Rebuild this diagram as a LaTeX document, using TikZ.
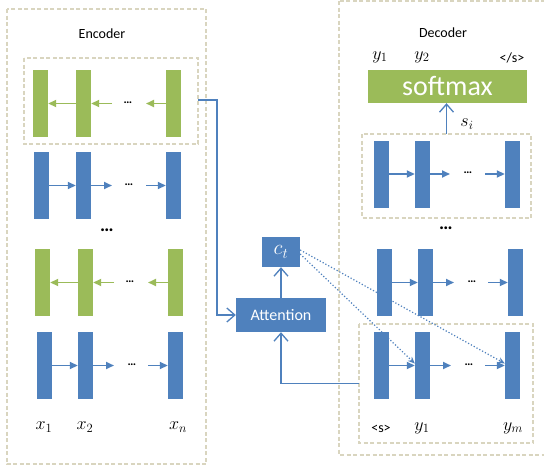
\RequirePackage{fix-cm}
\documentclass[tikz,border=0pt]{standalone}
\usepackage{fontspec}
\setmainfont{Carlito}
\usetikzlibrary{arrows.meta}
\definecolor{barblue}{HTML}{4F81BD}
\definecolor{bargreen}{HTML}{9BBB59}
\definecolor{dashc}{HTML}{D9D5BF}
\tikzset{
  bluebar/.style={fill=barblue,draw=none,minimum width=15pt,minimum height=67pt,inner sep=0pt},
  greenbar/.style={fill=bargreen,draw=none,minimum width=15pt,minimum height=67pt,inner sep=0pt},
  dashbox/.style={draw=dashc,line width=1.3pt,dash pattern=on 4pt off 2.5pt},
  barrow/.style={draw=barblue,line width=1.8pt,-{Triangle[length=8pt,width=7pt]}},
  garrow/.style={draw=bargreen,line width=1.8pt,-{Triangle[length=8pt,width=7pt]}},
  conn/.style={draw=barblue,line width=1.3pt,-{Straight Barb[length=8pt,width=14pt,line width=1.3pt]}},
  dotarrow/.style={draw=barblue,line width=1.2pt,dotted,-{Stealth[length=7pt,width=6pt,line width=0pt]}},
  lbl/.style={font=\fontsize{14}{16}\selectfont,inner sep=0pt},
  mlbl/.style={font=\fontsize{18}{20}\selectfont,inner sep=0pt},
  smalldots/.style={font=\fontsize{12}{12}\selectfont\bfseries,inner sep=0pt},
  bigdots/.style={font=\fontsize{19}{19}\selectfont\bfseries,inner sep=0pt},
  whitebox/.style={fill=barblue,text=white,inner sep=0pt}
}
\begin{document}
\begin{tikzpicture}[x=1pt,y=-1pt]
\useasboundingbox (0,0) rectangle (544,469);
\clip (0,0) rectangle (544,469);
\fill[white] (0,0) rectangle (544,469);
% ---------- Encoder ----------
\draw[dashbox] (7,9) rectangle (206,464);
\node[lbl] (enclabel) at (102,34) {Encoder};
\draw[dashbox] (24,58) rectangle (198,144);
\coordinate (eboxE) at (198,100);
% row 1 green
\node[greenbar] (g1a) at (40.5,103.5) {};
\node[greenbar] (g1b) at (83.5,103.5) {};
\node[greenbar] (g1c) at (173.5,103.5) {};
\node[smalldots] (g1d) at (128,103) {\char"2026};
\draw[garrow] (g1b.west) -- (g1a.east);
\draw[garrow] (112,103.5) -- (g1b.east);
\draw[garrow] (g1c.west) -- (146,103.5);
% row 2 blue
\node[bluebar] (b2a) at (41.5,185.5) {};
\node[bluebar] (b2b) at (83.5,185.5) {};
\node[bluebar] (b2c) at (173.5,185.5) {};
\node[smalldots] (b2d) at (129,185) {\char"2026};
\draw[barrow] (b2a.east) -- (b2b.west);
\draw[barrow] (b2b.east) -- (112,185.5);
\draw[barrow] (146,185.5) -- (b2c.west);
\node[bigdots] (edots) at (107,230) {\char"2026};
% row 3 green
\node[greenbar] (g3a) at (42.5,282.5) {};
\node[greenbar] (g3b) at (85.5,282.5) {};
\node[greenbar] (g3c) at (175.5,282.5) {};
\node[smalldots] (g3d) at (130,282) {\char"2026};
\draw[garrow] (g3b.west) -- (g3a.east);
\draw[garrow] (114,282.5) -- (g3b.east);
\draw[garrow] (g3c.west) -- (148,282.5);
% row 4 blue
\node[bluebar] (b4a) at (44.5,365.5) {};
\node[bluebar] (b4b) at (85.5,365.5) {};
\node[bluebar] (b4c) at (175.5,365.5) {};
\node[smalldots] (b4d) at (132,365) {\char"2026};
\draw[barrow] (b4a.east) -- (b4b.west);
\draw[barrow] (b4b.east) -- (114,365.5);
\draw[barrow] (148,365.5) -- (b4c.west);
\node[mlbl] (x1) at (44,427) {$x_1$};
\node[mlbl] (x2) at (85,427) {$x_2$};
\node[mlbl] (xn) at (178,427) {$x_n$};
% ---------- Decoder ----------
\draw[dashbox] (339,1) rectangle (560,455);
\node[lbl] (declabel) at (443,33) {Decoder};
\node[mlbl] (oy1) at (380,57) {$y_1$};
\node[mlbl] (oy2) at (422,57) {$y_2$};
\node[lbl] (oend) at (512,58) {</s>};
\node[fill=bargreen,text=white,minimum width=159pt,minimum height=33pt,inner sep=0pt,
      font=\fontsize{28}{30}\selectfont] (softmax) at (447.5,86.5) {softmax};
\draw[dashbox] (362,134) rectangle (531,218);
\coordinate (dtopN) at (446.5,134);
\node[bluebar] (d1a) at (381.5,174) {};
\node[bluebar] (d1b) at (422.5,174) {};
\node[bluebar] (d1c) at (512.5,174) {};
\node[smalldots] (d1d) at (468,173) {\char"2026};
\draw[barrow] (d1a.east) -- (d1b.west);
\draw[barrow] (d1b.east) -- (450,174);
\draw[barrow] (485,174) -- (d1c.west);
\draw[conn] (dtopN) -- (dtopN |- softmax.south);
\node[mlbl] (si) at (467,124) {$s_i$};
\node[bigdots] (ddots) at (446,228) {\char"2026};
% row 2
\node[bluebar] (d2a) at (384.5,282.5) {};
\node[bluebar] (d2b) at (425.5,282.5) {};
\node[bluebar] (d2c) at (515.5,282.5) {};
\node[smalldots] (d2d) at (472,282) {\char"2026};
\draw[barrow] (d2a.east) -- (d2b.west);
\draw[barrow] (d2b.east) -- (454,282.5);
\draw[barrow] (488,282.5) -- (d2c.west);
% row 3
\draw[dashbox] (359,324) rectangle (533,443);
\coordinate (dbotW) at (359,383.5);
\node[bluebar] (d3a) at (381.5,365.5) {};
\node[bluebar] (d3b) at (422.5,365.5) {};
\node[bluebar] (d3c) at (512.5,365.5) {};
\node[smalldots] (d3d) at (469,365) {\char"2026};
\draw[barrow] (d3a.east) -- (d3b.west);
\draw[barrow] (d3b.east) -- (451,365.5);
\draw[barrow] (485,365.5) -- (d3c.west);
\node[lbl] (sstart) at (381,429) {<s>};
\node[mlbl] (iy1) at (422,428) {$y_1$};
\node[mlbl] (iym) at (513,428) {$y_m$};
% ---------- Attention ----------
\node[whitebox,minimum width=90pt,minimum height=34pt,font=\fontsize{16}{18}\selectfont] (att) at (281,315) {Attention};
\node[whitebox,minimum width=38pt,minimum height=30pt,font=\fontsize{21}{23}\selectfont] (ct) at (281,252) {$c_t$};
\draw[conn] (eboxE) -- (217,100) |- (att.west);
\draw[conn] (dbotW) -| (att.south);
\draw[conn] (att.north) -- (ct.south);
\draw[dotarrow] ([yshift=2pt]ct.east) -- ([yshift=2pt]d3c.west);
\draw[dotarrow] ([yshift=-2pt]ct.east) -- ([yshift=2pt]d3b.west);
\end{tikzpicture}
\end{document}
